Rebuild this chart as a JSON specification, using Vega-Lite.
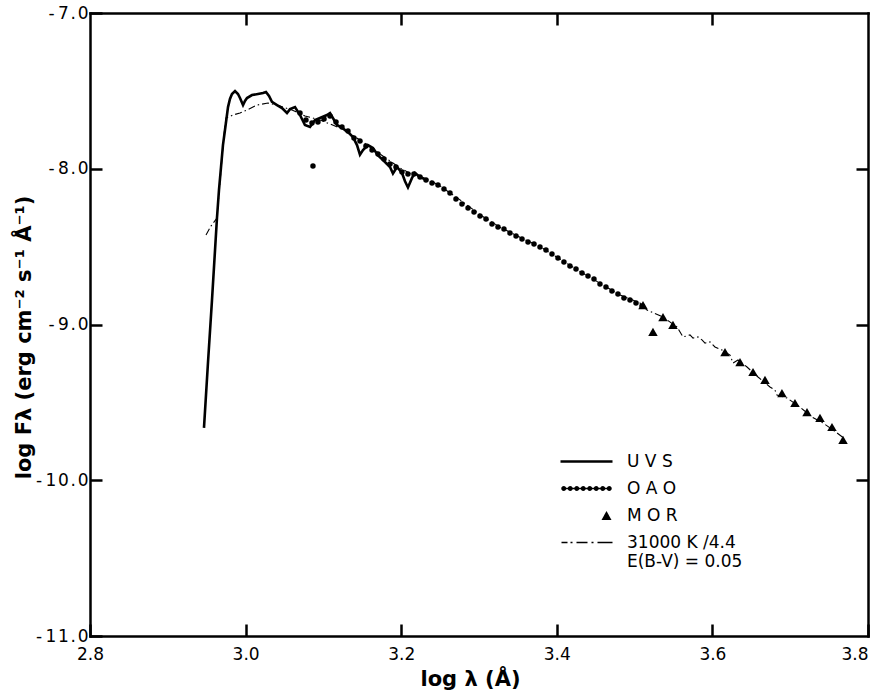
{
  "$schema": "https://vega.github.io/schema/vega-lite/v6.json",
  "width": 778,
  "height": 623,
  "autosize": {"type": "none"},
  "padding": {"left": 90, "top": 13, "right": 11, "bottom": 57},
  "background": "white",
  "datasets": {
    "uvs": [
      {"x":2.9465,"y":-9.664},{"x":2.9517,"y":-9.241},{"x":2.9568,"y":-8.843},{"x":2.9607,"y":-8.522},{"x":2.9632,"y":-8.316},{"x":2.9658,"y":-8.136},{"x":2.9684,"y":-7.989},{"x":2.9709,"y":-7.848},{"x":2.9735,"y":-7.751},{"x":2.9774,"y":-7.604},{"x":2.9799,"y":-7.552},{"x":2.9825,"y":-7.520},{"x":2.9864,"y":-7.501},{"x":2.9902,"y":-7.520},{"x":2.9928,"y":-7.546},{"x":2.9967,"y":-7.591},{"x":2.9992,"y":-7.565},{"x":3.0018,"y":-7.546},{"x":3.0082,"y":-7.527},{"x":3.0159,"y":-7.520},{"x":3.0224,"y":-7.514},{"x":3.0262,"y":-7.507},{"x":3.0301,"y":-7.533},{"x":3.0339,"y":-7.571},{"x":3.0404,"y":-7.591},{"x":3.0468,"y":-7.610},{"x":3.0532,"y":-7.642},{"x":3.0571,"y":-7.617},{"x":3.0635,"y":-7.604},{"x":3.0699,"y":-7.655},{"x":3.0763,"y":-7.719},{"x":3.0828,"y":-7.732},{"x":3.0892,"y":-7.687},{"x":3.0956,"y":-7.674},{"x":3.1046,"y":-7.655},{"x":3.1085,"y":-7.642},{"x":3.1175,"y":-7.719},{"x":3.1239,"y":-7.738},{"x":3.1316,"y":-7.764},{"x":3.1380,"y":-7.796},{"x":3.1432,"y":-7.848},{"x":3.1470,"y":-7.910},{"x":3.1509,"y":-7.880},{"x":3.1573,"y":-7.848},{"x":3.1637,"y":-7.867},{"x":3.1702,"y":-7.915},{"x":3.1766,"y":-7.944},{"x":3.1856,"y":-7.989},{"x":3.1894,"y":-8.030},{"x":3.1946,"y":-7.989},{"x":3.2010,"y":-8.027},{"x":3.2049,"y":-8.080},{"x":3.2087,"y":-8.120},{"x":3.2139,"y":-8.059},{"x":3.2177,"y":-8.027},{"x":3.2242,"y":-8.053},{"x":3.2331,"y":-8.072}
    ],
    "model": [
      {"x":2.9491,"y":-8.425},{"x":2.9555,"y":-8.368},{"x":2.9632,"y":-8.316},{"x":2.9684,"y":-8.008},{"x":2.9722,"y":-7.783},{"x":2.9748,"y":-7.674},{"x":2.9838,"y":-7.655},{"x":2.9928,"y":-7.642},{"x":3.0018,"y":-7.623},{"x":3.0147,"y":-7.591},{"x":3.0288,"y":-7.578},{"x":3.0442,"y":-7.597},{"x":3.0596,"y":-7.623},{"x":3.0763,"y":-7.661},{"x":3.0956,"y":-7.687},{"x":3.1213,"y":-7.738},{"x":3.1470,"y":-7.815},{"x":3.1727,"y":-7.905},{"x":3.1985,"y":-7.995},{"x":3.2152,"y":-8.040},{"x":3.2370,"y":-8.075},{"x":3.2499,"y":-8.110},{"x":3.2756,"y":-8.200},{"x":3.3013,"y":-8.295},{"x":3.3270,"y":-8.375},{"x":3.3527,"y":-8.440},{"x":3.3784,"y":-8.500},{"x":3.4041,"y":-8.580},{"x":3.4298,"y":-8.660},{"x":3.4555,"y":-8.735},{"x":3.4812,"y":-8.810},{"x":3.5069,"y":-8.862},{"x":3.5159,"y":-8.907},{"x":3.5365,"y":-8.952},{"x":3.5545,"y":-9.016},{"x":3.5622,"y":-9.080},{"x":3.5712,"y":-9.067},{"x":3.5751,"y":-9.087},{"x":3.5815,"y":-9.080},{"x":3.5866,"y":-9.099},{"x":3.5905,"y":-9.119},{"x":3.5969,"y":-9.112},{"x":3.6033,"y":-9.144},{"x":3.6123,"y":-9.164},{"x":3.6226,"y":-9.196},{"x":3.6265,"y":-9.247},{"x":3.6329,"y":-9.228},{"x":3.6445,"y":-9.273},{"x":3.6586,"y":-9.337},{"x":3.6740,"y":-9.401},{"x":3.6804,"y":-9.421},{"x":3.6830,"y":-9.453},{"x":3.6959,"y":-9.472},{"x":3.7125,"y":-9.530},{"x":3.7280,"y":-9.594},{"x":3.7421,"y":-9.632},{"x":3.7550,"y":-9.677},{"x":3.7704,"y":-9.735}
    ],
    "phot": [
      {"series":"OAO","x":3.0866,"y":-7.982},
      {"series":"OAO","x":3.0699,"y":-7.642},{"series":"OAO","x":3.0776,"y":-7.687},{"series":"OAO","x":3.0853,"y":-7.706},{"series":"OAO","x":3.0930,"y":-7.700},{"series":"OAO","x":3.1008,"y":-7.681},{"series":"OAO","x":3.1085,"y":-7.661},{"series":"OAO","x":3.1162,"y":-7.700},{"series":"OAO","x":3.1239,"y":-7.732},{"series":"OAO","x":3.1316,"y":-7.758},{"series":"OAO","x":3.1393,"y":-7.803},{"series":"OAO","x":3.1470,"y":-7.822},{"series":"OAO","x":3.1547,"y":-7.854},{"series":"OAO","x":3.1625,"y":-7.880},{"series":"OAO","x":3.1702,"y":-7.905},{"series":"OAO","x":3.1779,"y":-7.937},{"series":"OAO","x":3.1856,"y":-7.970},{"series":"OAO","x":3.1933,"y":-7.989},{"series":"OAO","x":3.2010,"y":-8.021},{"series":"OAO","x":3.2087,"y":-8.034},{"series":"OAO","x":3.2164,"y":-8.034},{"series":"OAO","x":3.2242,"y":-8.053},{"series":"OAO","x":3.2319,"y":-8.072},{"series":"OAO","x":3.2396,"y":-8.091},{"series":"OAO","x":3.2473,"y":-8.104},{"series":"OAO","x":3.2550,"y":-8.130},{"series":"OAO","x":3.2627,"y":-8.156},{"series":"OAO","x":3.2704,"y":-8.194},{"series":"OAO","x":3.2781,"y":-8.226},{"series":"OAO","x":3.2859,"y":-8.252},{"series":"OAO","x":3.2936,"y":-8.278},{"series":"OAO","x":3.3013,"y":-8.303},{"series":"OAO","x":3.3090,"y":-8.323},{"series":"OAO","x":3.3167,"y":-8.355},{"series":"OAO","x":3.3244,"y":-8.374},{"series":"OAO","x":3.3321,"y":-8.387},{"series":"OAO","x":3.3398,"y":-8.413},{"series":"OAO","x":3.3476,"y":-8.432},{"series":"OAO","x":3.3553,"y":-8.451},{"series":"OAO","x":3.3630,"y":-8.470},{"series":"OAO","x":3.3707,"y":-8.483},{"series":"OAO","x":3.3784,"y":-8.502},{"series":"OAO","x":3.3861,"y":-8.522},{"series":"OAO","x":3.3938,"y":-8.547},{"series":"OAO","x":3.4015,"y":-8.573},{"series":"OAO","x":3.4092,"y":-8.599},{"series":"OAO","x":3.4169,"y":-8.624},{"series":"OAO","x":3.4247,"y":-8.644},{"series":"OAO","x":3.4324,"y":-8.669},{"series":"OAO","x":3.4401,"y":-8.689},{"series":"OAO","x":3.4478,"y":-8.708},{"series":"OAO","x":3.4555,"y":-8.740},{"series":"OAO","x":3.4632,"y":-8.759},{"series":"OAO","x":3.4709,"y":-8.785},{"series":"OAO","x":3.4786,"y":-8.804},{"series":"OAO","x":3.4863,"y":-8.830},{"series":"OAO","x":3.4941,"y":-8.843},{"series":"OAO","x":3.5018,"y":-8.862},{"series":"OAO","x":3.5095,"y":-8.881},
      {"series":"MOR","x":3.5108,"y":-8.875},{"series":"MOR","x":3.5236,"y":-9.048},{"series":"MOR","x":3.5365,"y":-8.952},{"series":"MOR","x":3.5493,"y":-9.003},{"series":"MOR","x":3.6162,"y":-9.177},{"series":"MOR","x":3.6355,"y":-9.241},{"series":"MOR","x":3.6522,"y":-9.305},{"series":"MOR","x":3.6676,"y":-9.356},{"series":"MOR","x":3.6894,"y":-9.440},{"series":"MOR","x":3.7061,"y":-9.504},{"series":"MOR","x":3.7216,"y":-9.562},{"series":"MOR","x":3.7383,"y":-9.600},{"series":"MOR","x":3.7537,"y":-9.658},{"series":"MOR","x":3.7679,"y":-9.741}
    ]
  },
  "layer": [
    {
      "data": {"name": "model"},
      "mark": {"type": "line", "color": "black", "strokeWidth": 1.1, "strokeDash": [7, 3, 1.5, 3]},
      "encoding": {
        "x": {"field": "x", "type": "quantitative", "scale": {"domain": [2.8, 3.8], "nice": false, "zero": false},
          "axis": {"orient": "bottom", "values": [2.8, 3.0, 3.2, 3.4, 3.6, 3.8], "labelExpr": "format(datum.value, '.1f')", "labelPadding": 22,
            "labelAlign": {"condition": {"test": "datum.value > 3.75", "value": "right"}, "value": "center"},
            "title": "log   λ   (Å)", "titlePadding": 6, "titleX": 380}},
        "y": {"field": "y", "type": "quantitative", "scale": {"domain": [-11, -7], "nice": false, "zero": false},
          "axis": {"orient": "left", "values": [-11, -10, -9, -8, -7], "labelExpr": "'-\u2009' + join(split(format(abs(datum.value), '.1f'), ''), '\u200a')", "labelPadding": 14, "title": "log  Fλ  (erg  cm⁻²  s⁻¹  Å⁻¹)", "titlePadding": 1, "titleY": 324}}
      }
    },
    {
      "data": {"name": "uvs"},
      "mark": {"type": "line", "color": "black", "strokeWidth": 2.6},
      "encoding": {
        "x": {"field": "x", "type": "quantitative", "axis": {"orient": "top", "values": [3.0, 3.2, 3.4, 3.6], "labels": false, "title": null}},
        "y": {"field": "y", "type": "quantitative", "axis": {"orient": "right", "values": [-10, -9, -8], "labels": false, "title": null}}
      }
    },
    {
      "data": {"name": "phot"},
      "transform": [{"filter": "datum.series == 'OAO'"}],
      "mark": {"type": "point", "shape": "circle", "filled": true, "color": "black", "opacity": 1, "size": 30},
      "encoding": {
        "x": {"field": "x", "type": "quantitative", "axis": null},
        "y": {"field": "y", "type": "quantitative", "axis": null}
      }
    },
    {
      "data": {"name": "phot"},
      "transform": [{"filter": "datum.series == 'MOR'"}],
      "mark": {"type": "point", "shape": "triangle-up", "filled": true, "color": "black", "opacity": 1, "size": 90},
      "encoding": {
        "x": {"field": "x", "type": "quantitative", "axis": null},
        "y": {"field": "y", "type": "quantitative", "axis": null}
      }
    },
    {
      "data": {"name": "phot"},
      "mark": {"type": "point", "opacity": 0},
      "encoding": {
        "x": {"field": "x", "type": "quantitative", "axis": null},
        "y": {"field": "y", "type": "quantitative", "axis": null},
        "shape": {
          "field": "series", "type": "nominal",
          "scale": {"domain": ["UVS", "OAO", "MOR", "model"],
            "range": [
              "M-5.2,0L5.2,0",
              "M-4.7,-0.15L4.7,-0.15L4.7,0.15L-4.7,0.15ZM-5.05,0a0.5,0.5 0 1,1 1,0a0.5,0.5 0 1,1 -1,0M-3.75,0a0.5,0.5 0 1,1 1,0a0.5,0.5 0 1,1 -1,0M-2.45,0a0.5,0.5 0 1,1 1,0a0.5,0.5 0 1,1 -1,0M-1.15,0a0.5,0.5 0 1,1 1,0a0.5,0.5 0 1,1 -1,0M0.15,0a0.5,0.5 0 1,1 1,0a0.5,0.5 0 1,1 -1,0M1.45,0a0.5,0.5 0 1,1 1,0a0.5,0.5 0 1,1 -1,0M2.75,0a0.5,0.5 0 1,1 1,0a0.5,0.5 0 1,1 -1,0M4.05,0a0.5,0.5 0 1,1 1,0a0.5,0.5 0 1,1 -1,0",
              "M3,0.9L5,0.9L4,-0.9Z",
              "M-5,0L-3.8,0M-3.2,0L-2.8,0M-2,0L0.2,0M1,0L1.4,0M2.2,0L5.2,0"
            ]},
          "legend": {
            "title": null,
            "orient": "none",
            "legendX": 488,
            "legendY": 440,
            "padding": 0,
            "symbolSize": 100,
            "symbolOpacity": 1,
            "labelFont": "DejaVu Sans",
            "labelFontSize": 17,
            "labelColor": "black",
            "labelOffset": 32,
            "labelLimit": 400,
            "rowPadding": 9,
            "labelBaseline": "middle",
            "labelExpr": "datum.value == 'UVS' ? 'U V S' : datum.value == 'OAO' ? 'O A O' : datum.value == 'MOR' ? 'M O R' : ['31000 K /4.4', 'E(B-V) = 0.05']"
          }
        },
        "fill": {"field": "series", "type": "nominal", "scale": {"domain": ["UVS", "OAO", "MOR", "model"], "range": ["transparent", "black", "black", "transparent"]}},
        "stroke": {"field": "series", "type": "nominal", "scale": {"domain": ["UVS", "OAO", "MOR", "model"], "range": ["black", "transparent", "transparent", "black"]}},
        "strokeWidth": {"field": "series", "type": "nominal", "scale": {"type": "ordinal", "domain": ["UVS", "OAO", "MOR", "model"], "range": [2.6, 1, 1, 1.4]}}
      }
    },
    {
      "mark": {"type": "text", "text": "τ  S c o r p i i", "align": "left", "baseline": "alphabetic", "font": "DejaVu Sans", "fontSize": 20, "color": "black"},
      "encoding": {
        "x": {"datum": 3.398, "type": "quantitative", "axis": null},
        "y": {"datum": -7.735, "type": "quantitative", "axis": null}
      }
    }
  ],
  "config": {
    "view": {"stroke": null},
    "axis": {
      "domainColor": "black", "domainWidth": 2.5, "domainCap": "square",
      "tickColor": "black", "tickWidth": 2.5, "tickSize": -12,
      "grid": false,
      "labelFont": "DejaVu Sans", "labelFontSize": 17, "labelColor": "black",
      "labelFlush": false, "labelOverlap": false, "labelBound": false,
      "titleFont": "DejaVu Sans", "titleFontWeight": "bold", "titleFontSize": 21, "titleColor": "black"
    }
  }
}
